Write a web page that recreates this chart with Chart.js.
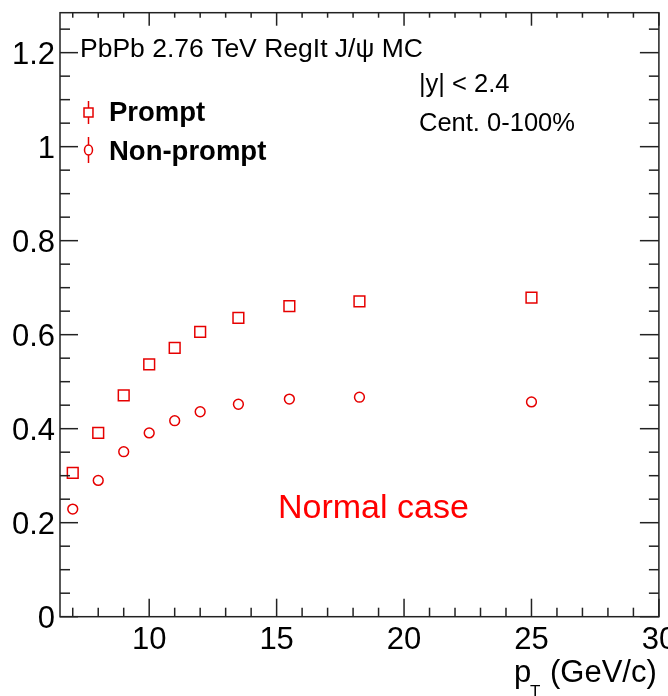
<!DOCTYPE html>
<html>
<head>
<meta charset="utf-8">
<script src="https://cdn.jsdelivr.net/npm/chart.js@4/dist/chart.umd.min.js"></script>
<style>
html, body { margin: 0; padding: 0; background: #fff; }
#wrap { width: 668px; height: 696px; }
</style>
</head>
<body>
<div id="wrap"><canvas id="c" width="668" height="696"></canvas></div>
<script>
// data
const ptBins = [7, 8, 9, 10, 11, 12, 13.5, 15.5, 18.25, 25];
const prompt = [0.306, 0.391, 0.471, 0.537, 0.572, 0.606, 0.636, 0.661, 0.671, 0.679];
const nonPrompt = [0.229, 0.290, 0.351, 0.391, 0.417, 0.436, 0.452, 0.463, 0.467, 0.457];

const xTicks = [10, 15, 20, 25, 30];
const xTickLabels = ['10', '15', '20', '25', '30'];
const yTicks = [0, 0.2, 0.4, 0.6, 0.8, 1, 1.2];
const yTickLabels = ['0', '0.2', '0.4', '0.6', '0.8', '1', '1.2'];

const RED = '#e60000';
const FONT = '"Liberation Sans", Arial, Helvetica, sans-serif';

const pts = ys => ptBins.map((x, i) => ({ x, y: ys[i] }));

// frame, ticks, labels and texts (ROOT style)
const rootFrame = {
  id: 'rootFrame',
  afterDraw(chart) {
    const { ctx, chartArea: a, scales: { x, y } } = chart;
    ctx.save();
    ctx.strokeStyle = '#222';
    ctx.lineWidth = 1.5;
    ctx.strokeRect(a.left, a.top, a.right - a.left, a.bottom - a.top);

    const line = (x1, y1, x2, y2) => {
      ctx.beginPath(); ctx.moveTo(x1, y1); ctx.lineTo(x2, y2); ctx.stroke();
    };

    // x ticks
    for (let v = 7; v <= 30; v++) {
      const px = x.getPixelForValue(v);
      const major = v % 5 === 0;
      line(px, a.bottom, px, a.bottom - (major ? 18 : 9));
      line(px, a.top, px, a.top + (major ? 13 : 5));
    }
    // y ticks
    for (let k = 0; k <= 25; k++) {
      const v = k * 0.05;
      const py = y.getPixelForValue(v);
      const major = k % 4 === 0;
      line(a.left, py, a.left + (major ? 18 : 10), py);
      line(a.right, py, a.right - (major ? 19 : 10), py);
    }

    // tick labels
    ctx.fillStyle = '#000';
    ctx.font = `31px ${FONT}`;
    ctx.textAlign = 'right';
    ctx.textBaseline = 'alphabetic';
    yTicks.forEach((v, i) => {
      ctx.fillText(yTickLabels[i], 55, y.getPixelForValue(v) + 11);
    });
    ctx.textAlign = 'center';
    xTicks.forEach((v, i) => {
      ctx.fillText(xTickLabels[i], x.getPixelForValue(v), 649);
    });

    // axis title p_T (GeV/c)
    ctx.textAlign = 'left';
    ctx.font = `31px ${FONT}`;
    ctx.fillText('p', 514, 682);
    ctx.font = `17px ${FONT}`;
    ctx.fillText('T', 530, 697);
    ctx.font = `31px ${FONT}`;
    ctx.fillText('(GeV/c)', 550, 682);

    // labels
    ctx.font = `26.5px ${FONT}`;
    ctx.fillText('PbPb 2.76 TeV RegIt J/\u03c8 MC', 80, 57);
    ctx.font = `25.5px ${FONT}`;
    ctx.fillText('|y| < 2.4', 419, 92);
    ctx.fillText('Cent. 0-100%', 419, 131);

    ctx.fillStyle = '#ff0000';
    ctx.font = `34px ${FONT}`;
    ctx.fillText('Normal case', 278, 518);

    // legend
    ctx.fillStyle = '#000';
    ctx.font = `bold 27.5px ${FONT}`;
    ctx.fillText('Prompt', 109, 121);
    ctx.fillText('Non-prompt', 109, 160);

    ctx.strokeStyle = RED;
    ctx.lineWidth = 1.5;
    line(88.5, 101, 88.5, 124);
    ctx.fillStyle = '#fff';
    ctx.fillRect(84, 108, 9, 9);
    ctx.strokeRect(84, 108, 9, 9);
    line(88.5, 137, 88.5, 163);
    ctx.beginPath();
    ctx.ellipse(88.5, 150, 4, 5, 0, 0, Math.PI * 2);
    ctx.fill();
    ctx.stroke();
    ctx.restore();
  }
};

new Chart(document.getElementById('c'), {
  type: 'scatter',
  data: {
    datasets: [
      {
        label: 'Prompt',
        data: pts(prompt),
        pointStyle: 'rect',
        pointRadius: 7.6,
        borderColor: RED,
        borderWidth: 1.5,
        backgroundColor: 'rgba(0,0,0,0)'
      },
      {
        label: 'Non-prompt',
        data: pts(nonPrompt),
        pointStyle: 'circle',
        pointRadius: 4.9,
        borderColor: RED,
        borderWidth: 1.5,
        backgroundColor: 'rgba(0,0,0,0)'
      }
    ]
  },
  options: {
    responsive: false,
    animation: false,
    layout: { padding: { left: 60, right: 2.5, top: 12.7, bottom: 79.3 } },
    scales: {
      x: { type: 'linear', min: 6.5, max: 30, display: false },
      y: { type: 'linear', min: 0, max: 1.285, display: false }
    },
    plugins: {
      legend: { display: false },
      tooltip: { enabled: false }
    }
  },
  plugins: [rootFrame]
});
</script>
</body>
</html>
